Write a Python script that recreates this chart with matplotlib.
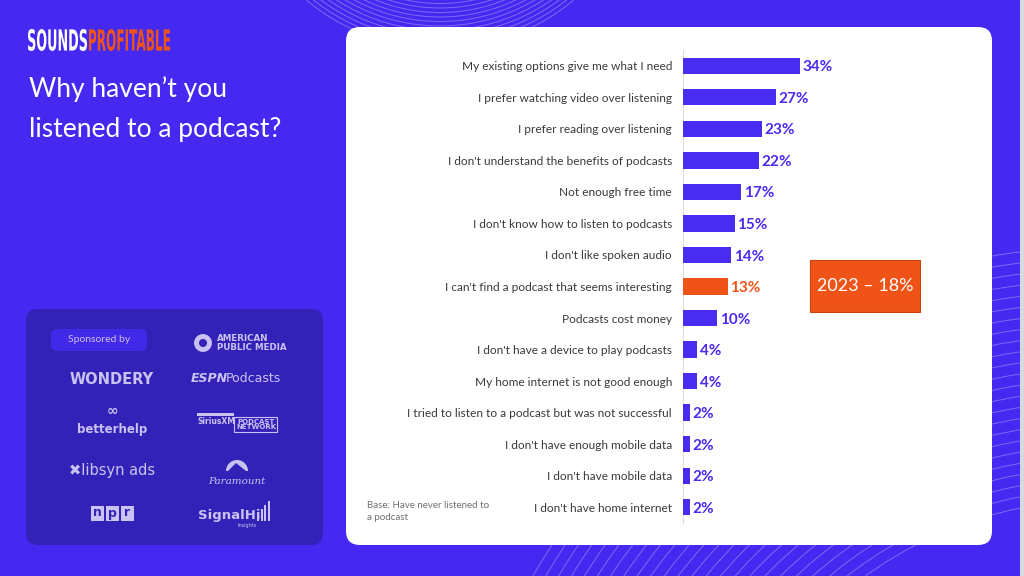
import matplotlib
matplotlib.use("Agg")
import matplotlib.pyplot as plt
import numpy as np
from matplotlib.patches import FancyBboxPatch, Rectangle, Circle, Arc, Wedge, PathPatch, Polygon
from matplotlib.textpath import TextPath
from matplotlib.font_manager import FontProperties
from matplotlib.transforms import Affine2D

# data
reasons = [
    "My existing options give me what I need",
    "I prefer watching video over listening",
    "I prefer reading over listening",
    "I don't understand the benefits of podcasts",
    "Not enough free time",
    "I don't know how to listen to podcasts",
    "I don't like spoken audio",
    "I can't find a podcast that seems interesting",
    "Podcasts cost money",
    "I don't have a device to play podcasts",
    "My home internet is not good enough",
    "I tried to listen to a podcast but was not successful",
    "I don't have enough mobile data",
    "I don't have mobile data",
    "I don't have home internet",
]
pct = [34, 27, 23, 22, 17, 15, 14, 13, 10, 4, 4, 2, 2, 2, 2]
highlight = "I can't find a podcast that seems interesting"
callout = "2023 – 18%"
sponsors_left = ["WONDERY", "betterhelp", "libsyn ads", "npr"]
sponsors_right = ["AMERICAN\nPUBLIC MEDIA", "ESPN Podcasts", "SiriusXM PODCAST NETWORK", "Paramount", "SignalHill"]

BG = "#4529F0"
BAR = "#482CF0"
ORANGE = "#F05318"
LOGO = "#C9C2F2"
FONT = "Lato"

fig = plt.figure(figsize=(10.24, 5.76), dpi=100)
fig.patch.set_facecolor(BG)

bg = fig.add_axes([0, 0, 1, 1])
bg.set_xlim(0, 1024)
bg.set_ylim(576, 0)
bg.axis("off")


def squeezed_text(ax, s, x, y_top, w, h, color):
    # condensed logo lettering: scale a text path into a w x h box
    tp = TextPath((0, 0), s, size=1, prop=FontProperties(family="DejaVu Sans", weight="bold"))
    ext = tp.get_extents()
    tr = Affine2D().translate(-ext.x0, -ext.y0).scale(w / ext.width, -h / ext.height).translate(x, y_top + h)
    ax.add_patch(PathPatch(tr.transform_path(tp), fc=color, ec="none", zorder=4))


# decorative arcs top
clip_top = Rectangle((0, 0), 1024, 45, transform=bg.transData)
for r in np.arange(150, 210, 4.5):
    a = Arc((440, -160), 2 * r, 2 * r, theta1=0, theta2=360, color="white", lw=0.7, alpha=0.3)
    bg.add_patch(a)
    a.set_clip_path(clip_top)
# decorative arcs bottom right
for r in np.arange(400, 660, 11):
    bg.add_patch(Arc((1100, 900), 2 * r, 2 * r, theta1=0, theta2=360,
                     color="white", lw=0.7, alpha=0.3))

# white panel
bg.add_patch(FancyBboxPatch((346, 27), 646, 518, boxstyle="round,pad=0,rounding_size=14",
                            fc="white", ec="none", zorder=3))
# screenshot edge
bg.add_patch(Rectangle((1020, 0), 4, 576, fc="#D8D8E0", ec="none", zorder=3))

# logo + title
squeezed_text(bg, "SOUNDS", 28, 29, 59, 22, "white")
squeezed_text(bg, "PROFITABLE", 89, 29, 81, 22, ORANGE)
bg.text(29, 89, "Why haven\u2019t you", color="white", fontsize=19, family=FONT, va="center")
bg.text(29, 129, "listened to a podcast?", color="white", fontsize=19, family=FONT, va="center")

# sponsor box
bg.add_patch(FancyBboxPatch((26, 309), 297, 236, boxstyle="round,pad=0,rounding_size=12",
                            fc="#3322B8", ec="none", zorder=2))
bg.add_patch(FancyBboxPatch((51, 329), 96, 22, boxstyle="round,pad=0,rounding_size=6",
                            fc="#4229E8", ec="none", zorder=3))
bg.text(99, 340, "Sponsored by", color=LOGO, fontsize=7.5, family=FONT, ha="center", va="center", zorder=4)

bg.text(112, 379, sponsors_left[0], color=LOGO, fontsize=10.5, fontweight="bold",
        family="DejaVu Sans", ha="center", va="center", zorder=4)
bg.text(112, 429, sponsors_left[1], color=LOGO, fontsize=8.5, fontweight="bold",
        family="DejaVu Sans", ha="center", va="center", zorder=4)
bg.text(112, 411, "\u221e", color=LOGO, fontsize=10, fontweight="bold",
        ha="center", va="center", zorder=4)
bg.text(112, 470, "\u2716" + sponsors_left[2], color=LOGO, fontsize=10.5,
        family="DejaVu Sans", ha="center", va="center", zorder=4)
for i, ch in enumerate(sponsors_left[3]):
    x0 = 91 + i * 15
    bg.add_patch(Rectangle((x0, 506), 13, 15, fc=LOGO, ec="none", zorder=4))
    bg.text(x0 + 6.5, 513, ch, color="#3322B8", fontsize=9, fontweight="bold",
            family="DejaVu Sans", ha="center", va="center", zorder=5)

bg.add_patch(Circle((203, 343), 6.5, fc="none", ec=LOGO, lw=3.5, zorder=4))
bg.text(217, 343, sponsors_right[0], color=LOGO, fontsize=6.3, fontweight="bold",
        family="DejaVu Sans", ha="left", va="center", linespacing=1.0, zorder=4)
bg.text(191, 379, "ESPN", color=LOGO, fontsize=9, fontweight="bold", style="italic",
        family="DejaVu Sans", ha="left", va="center", zorder=4)
bg.text(226, 379, "Podcasts", color=LOGO, fontsize=9, family="DejaVu Sans",
        ha="left", va="center", zorder=4)
bg.add_patch(Rectangle((197, 413), 37, 3, fc=LOGO, ec="none", zorder=4))
bg.text(197, 422, "SiriusXM", color=LOGO, fontsize=5.5, fontweight="bold",
        family="DejaVu Sans", ha="left", va="center", zorder=4)
bg.add_patch(Rectangle((234, 417), 43, 15, fc="none", ec=LOGO, lw=0.8, zorder=4))
bg.text(256, 424.5, "PODCAST\nNETWORK", color=LOGO, fontsize=5, fontweight="bold",
        family="DejaVu Sans", ha="center", va="center", linespacing=0.9, zorder=4)
bg.add_patch(Wedge((237, 471), 11, 180, 360, fc=LOGO, ec="none", zorder=4))
bg.add_patch(Polygon([[228, 471], [236, 463], [246, 471]], closed=True, fc="#3322B8", ec="none", zorder=5))
bg.text(237, 481, sponsors_right[3], color=LOGO, fontsize=7.5, style="italic",
        family="DejaVu Serif", ha="center", va="center", zorder=4)
bg.text(229, 515, "SignalHi", color=LOGO, fontsize=9.5, fontweight="bold",
        family="DejaVu Sans", ha="center", va="center", zorder=4)
for i, h in enumerate([8, 12, 16, 20]):
    bg.add_patch(Rectangle((257 + i * 3.5, 521 - h), 2, h, fc=LOGO, ec="none", zorder=4))
bg.text(247, 526, "Insights", color=LOGO, fontsize=3.5, family="DejaVu Sans",
        ha="center", va="center", zorder=4)

# base note
bg.text(367, 505, "Base: Have never listened to", color="#707070", fontsize=7,
        family=FONT, ha="left", va="center", zorder=5)
bg.text(367, 518, "a podcast", color="#707070", fontsize=7,
        family=FONT, ha="left", va="center", zorder=5)

# callout box
bg.add_patch(Rectangle((810, 260), 110, 52, fc=ORANGE, ec="#C8440F", lw=0.8, zorder=5))
bg.text(865, 286, callout, color="white", fontsize=13, family=FONT,
        ha="center", va="center", zorder=6)

# bar chart
px_per = 3.44
ax = fig.add_axes([683 / 1024, 1 - 523 / 576, 40 * px_per / 1024, 473 / 576])
ax.set_facecolor("none")
ypos = np.arange(len(reasons))
colors = [ORANGE if r == highlight else BAR for r in reasons]
ax.barh(ypos, pct, height=0.52, color=colors, zorder=3)
for y, v, c in zip(ypos, pct, colors):
    ax.text(v + 0.8, y + 0.05, f"{v}%", color=c, fontsize=11, fontweight="bold",
            family=FONT, ha="left", va="center", clip_on=False)
ax.set_xlim(0, 40)
ax.set_ylim(len(reasons) - 0.5, -0.5)
ax.set_yticks(ypos)
ax.set_yticklabels(reasons, fontsize=8.6, color="#3A3A3A", family=FONT)
ax.tick_params(axis="y", length=0, pad=8)
ax.set_xticks([])
for s in ["top", "right", "bottom"]:
    ax.spines[s].set_visible(False)
ax.spines["left"].set_color("#DDDDDD")
ax.spines["left"].set_linewidth(0.8)

fig.savefig("out.png", dpi=100, facecolor=BG)
